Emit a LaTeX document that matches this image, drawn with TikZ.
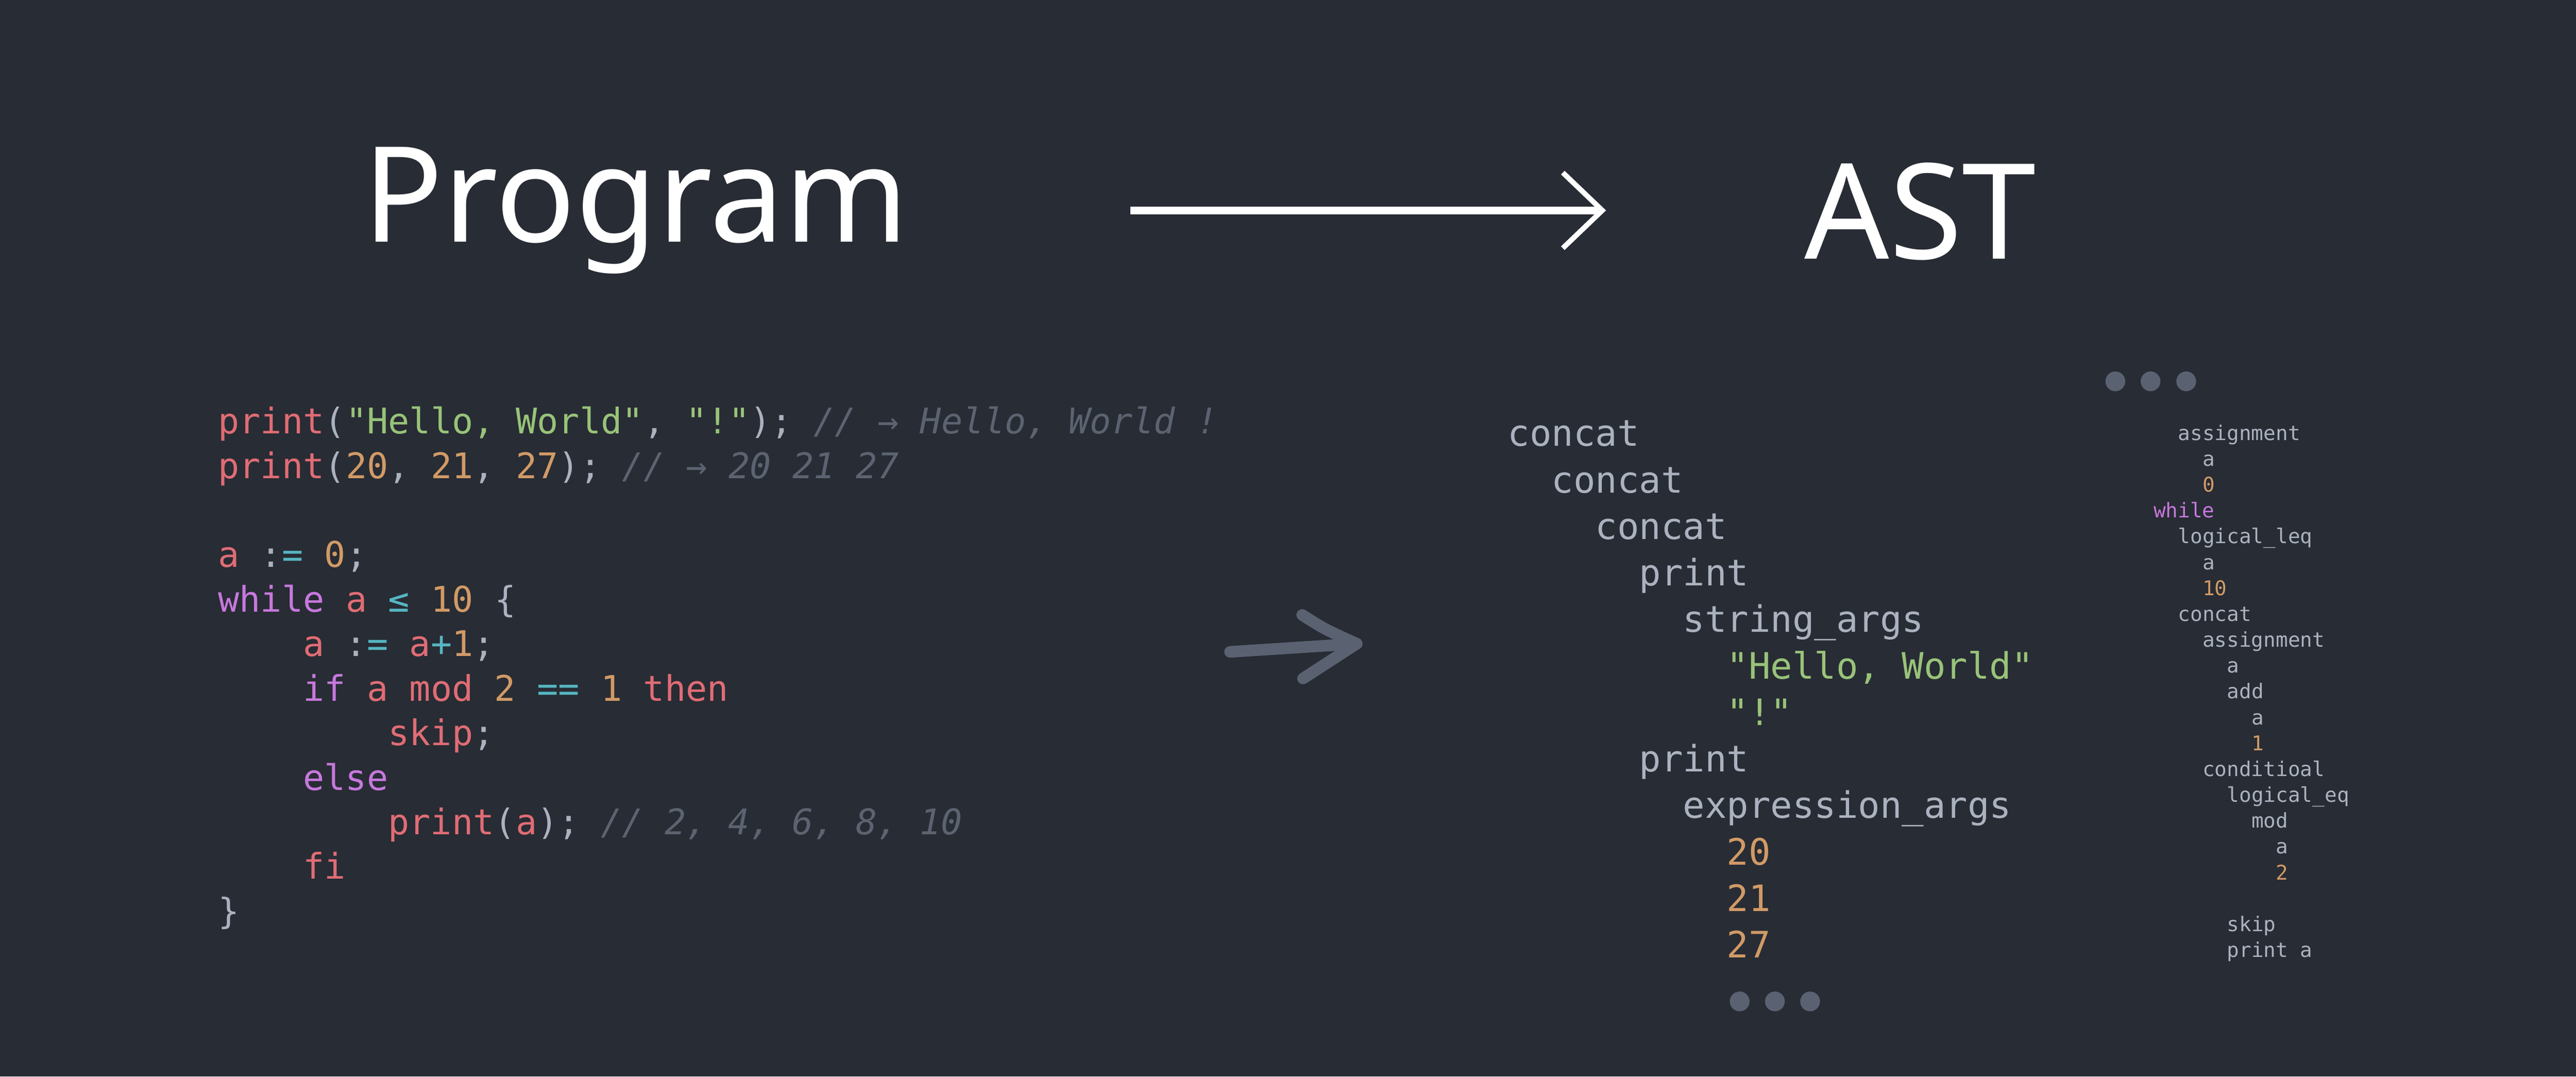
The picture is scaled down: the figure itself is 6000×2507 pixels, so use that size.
\documentclass[tikz,border=0pt]{standalone}
\usepackage{fontspec}
\setmainfont{Noto Sans}
\newfontfamily\codefont{DejaVu Sans Mono}
\newfontfamily\titlefont{Noto Sans}
\definecolor{bgc}{HTML}{282C34}
\definecolor{ored}{HTML}{E06C75}
\definecolor{ogrn}{HTML}{98C379}
\definecolor{oorg}{HTML}{D19A66}
\definecolor{ocyn}{HTML}{56B6C2}
\definecolor{opur}{HTML}{C678DD}
\definecolor{ofg}{HTML}{ABB2BF}
\definecolor{ocom}{HTML}{5C6370}
\definecolor{dotc}{HTML}{5A6272}
\newcommand\kred[1]{\textcolor{ored}{#1}}
\newcommand\kgrn[1]{\textcolor{ogrn}{#1}}
\newcommand\korg[1]{\textcolor{oorg}{#1}}
\newcommand\kcyn[1]{\textcolor{ocyn}{#1}}
\newcommand\kpur[1]{\textcolor{opur}{#1}}
\newcommand\kfg[1]{\textcolor{ofg}{#1}}
\newcommand\kcom[1]{\textcolor{ocom}{\itshape #1}}
\begin{document}
\begin{tikzpicture}[x=0.01cm,y=-0.01cm,
  codeline/.style={anchor=base west,inner sep=0pt,outer sep=0pt,text=ofg,
    font=\codefont\fontsize{23.4}{28}\selectfont},
  astline/.style={anchor=base west,inner sep=0pt,outer sep=0pt,text=ofg,
    font=\codefont\fontsize{24.1}{29}\selectfont},
  smallline/.style={anchor=base west,inner sep=0pt,outer sep=0pt,text=ofg,
    font=\codefont\fontsize{13.45}{16}\selectfont},
  titletext/.style={anchor=base west,inner sep=0pt,outer sep=0pt,text=white,
    font=\titlefont\fontsize{88}{100}\selectfont},
  dotnode/.style={circle,fill=dotc,minimum size=0.46cm,inner sep=0pt,outer sep=0pt},
]
\fill[bgc] (0,0) rectangle (6000,2507);
\useasboundingbox (0,0) rectangle (6000,2507);

% titles
\node[titletext] (prog) at (845,563) {Program};
\node[titletext] (ast) at (4203,603) {AST};

% big arrow
\coordinate (a1s) at (2633,490);
\coordinate (a1e) at (3732,490);
\draw[white,line width=0.18cm] (a1s) -- ([xshift=-0.1cm]a1e);
\draw[white,line width=0.12cm,miter limit=10] ([shift={(-92,-88)}]a1e) -- (a1e) -- ([shift={(-92,88)}]a1e);

% code
\node[codeline] (c1) at (508,1010) {\kred{print}\kfg{(}\kgrn{"Hello, World"}\kfg{, }\kgrn{"!"}\kfg{);} \kcom{// → Hello, World !}};
\node[codeline] (c2) at (508,1113.7) {\kred{print}\kfg{(}\korg{20}\kfg{, }\korg{21}\kfg{, }\korg{27}\kfg{);} \kcom{// → 20 21 27}};
\node[codeline] (c4) at (508,1321.1) {\kred{a} \kfg{:}\kcyn{=} \korg{0}\kfg{;}};
\node[codeline] (c5) at (508,1424.8) {\kpur{while} \kred{a} \kcyn{≤} \korg{10} \kfg{\{}};
\node[codeline] (c6) at (706,1528.5) {\kred{a} \kfg{:}\kcyn{=} \kred{a}\kcyn{+}\korg{1}\kfg{;}};
\node[codeline] (c7) at (706,1632.2) {\kpur{if} \kred{a mod} \korg{2} \kcyn{==} \korg{1} \kred{then}};
\node[codeline] (c8) at (904,1735.9) {\kred{skip}\kfg{;}};
\node[codeline] (c9) at (706,1839.6) {\kpur{else}};
\node[codeline] (c10) at (904,1943.3) {\kred{print}\kfg{(}\kred{a}\kfg{);} \kcom{// 2, 4, 6, 8, 10}};
\node[codeline] (c11) at (706,2047) {\kred{fi}};
\node[codeline] (c12) at (508,2150.7) {\kfg{\}}};

% middle arrow
\coordinate (a2s) at (2865,1518);
\coordinate (a2e) at (3160,1499);
\coordinate (a2u) at (3033,1432);
\coordinate (a2l) at (3035,1580);
\draw[dotc,line width=0.27cm,line cap=round,line join=round] (a2s) -- (a2e);
\draw[dotc,line width=0.27cm,line cap=round,line join=round] (a2u) .. controls (3085,1465) .. (a2e) -- (a2l);

% middle AST
\node[astline] (m0) at (3512,1039) {concat};
\node[astline] (m1) at (3614,1147.3) {concat};
\node[astline] (m2) at (3716,1255.6) {concat};
\node[astline] (m3) at (3818,1363.9) {print};
\node[astline] (m4) at (3920,1472.2) {string\_args};
\node[astline] (m5) at (4022,1580.5) {\kgrn{"Hello, World"}};
\node[astline] (m6) at (4022,1688.8) {\kgrn{"!"}};
\node[astline] (m7) at (3818,1797.1) {print};
\node[astline] (m8) at (3920,1905.4) {expression\_args};
\node[astline] (m9) at (4022,2013.7) {\korg{20}};
\node[astline] (m10) at (4022,2122) {\korg{21}};
\node[astline] (m11) at (4022,2230.3) {\korg{27}};
\node[dotnode] (md1) at (4052,2332) {};
\node[dotnode] (md2) at (4134,2332) {};
\node[dotnode] (md3) at (4216,2332) {};

% right small AST
\node[dotnode] (rd1) at (4927,888) {};
\node[dotnode] (rd2) at (5009,888) {};
\node[dotnode] (rd3) at (5092,888) {};
\node[smallline] (r0) at (5073,1025) {assignment};
\node[smallline] (r1) at (5130,1085.2) {a};
\node[smallline] (r2) at (5130,1145.4) {\korg{0}};
\node[smallline] (r3) at (5016,1205.6) {\kpur{while}};
\node[smallline] (r4) at (5073,1265.8) {logical\_leq};
\node[smallline] (r5) at (5130,1326) {a};
\node[smallline] (r6) at (5130,1386.2) {\korg{10}};
\node[smallline] (r7) at (5073,1446.4) {concat};
\node[smallline] (r8) at (5130,1506.6) {assignment};
\node[smallline] (r9) at (5187,1566.8) {a};
\node[smallline] (r10) at (5187,1627) {add};
\node[smallline] (r11) at (5244,1687.2) {a};
\node[smallline] (r12) at (5244,1747.4) {\korg{1}};
\node[smallline] (r13) at (5130,1807.6) {conditioal};
\node[smallline] (r14) at (5187,1867.8) {logical\_eq};
\node[smallline] (r15) at (5244,1928) {mod};
\node[smallline] (r16) at (5301,1988.2) {a};
\node[smallline] (r17) at (5301,2048.4) {\korg{2}};
\node[smallline] (r19) at (5187,2168.8) {skip};
\node[smallline] (r20) at (5187,2229) {print a};
\end{tikzpicture}
\end{document}
